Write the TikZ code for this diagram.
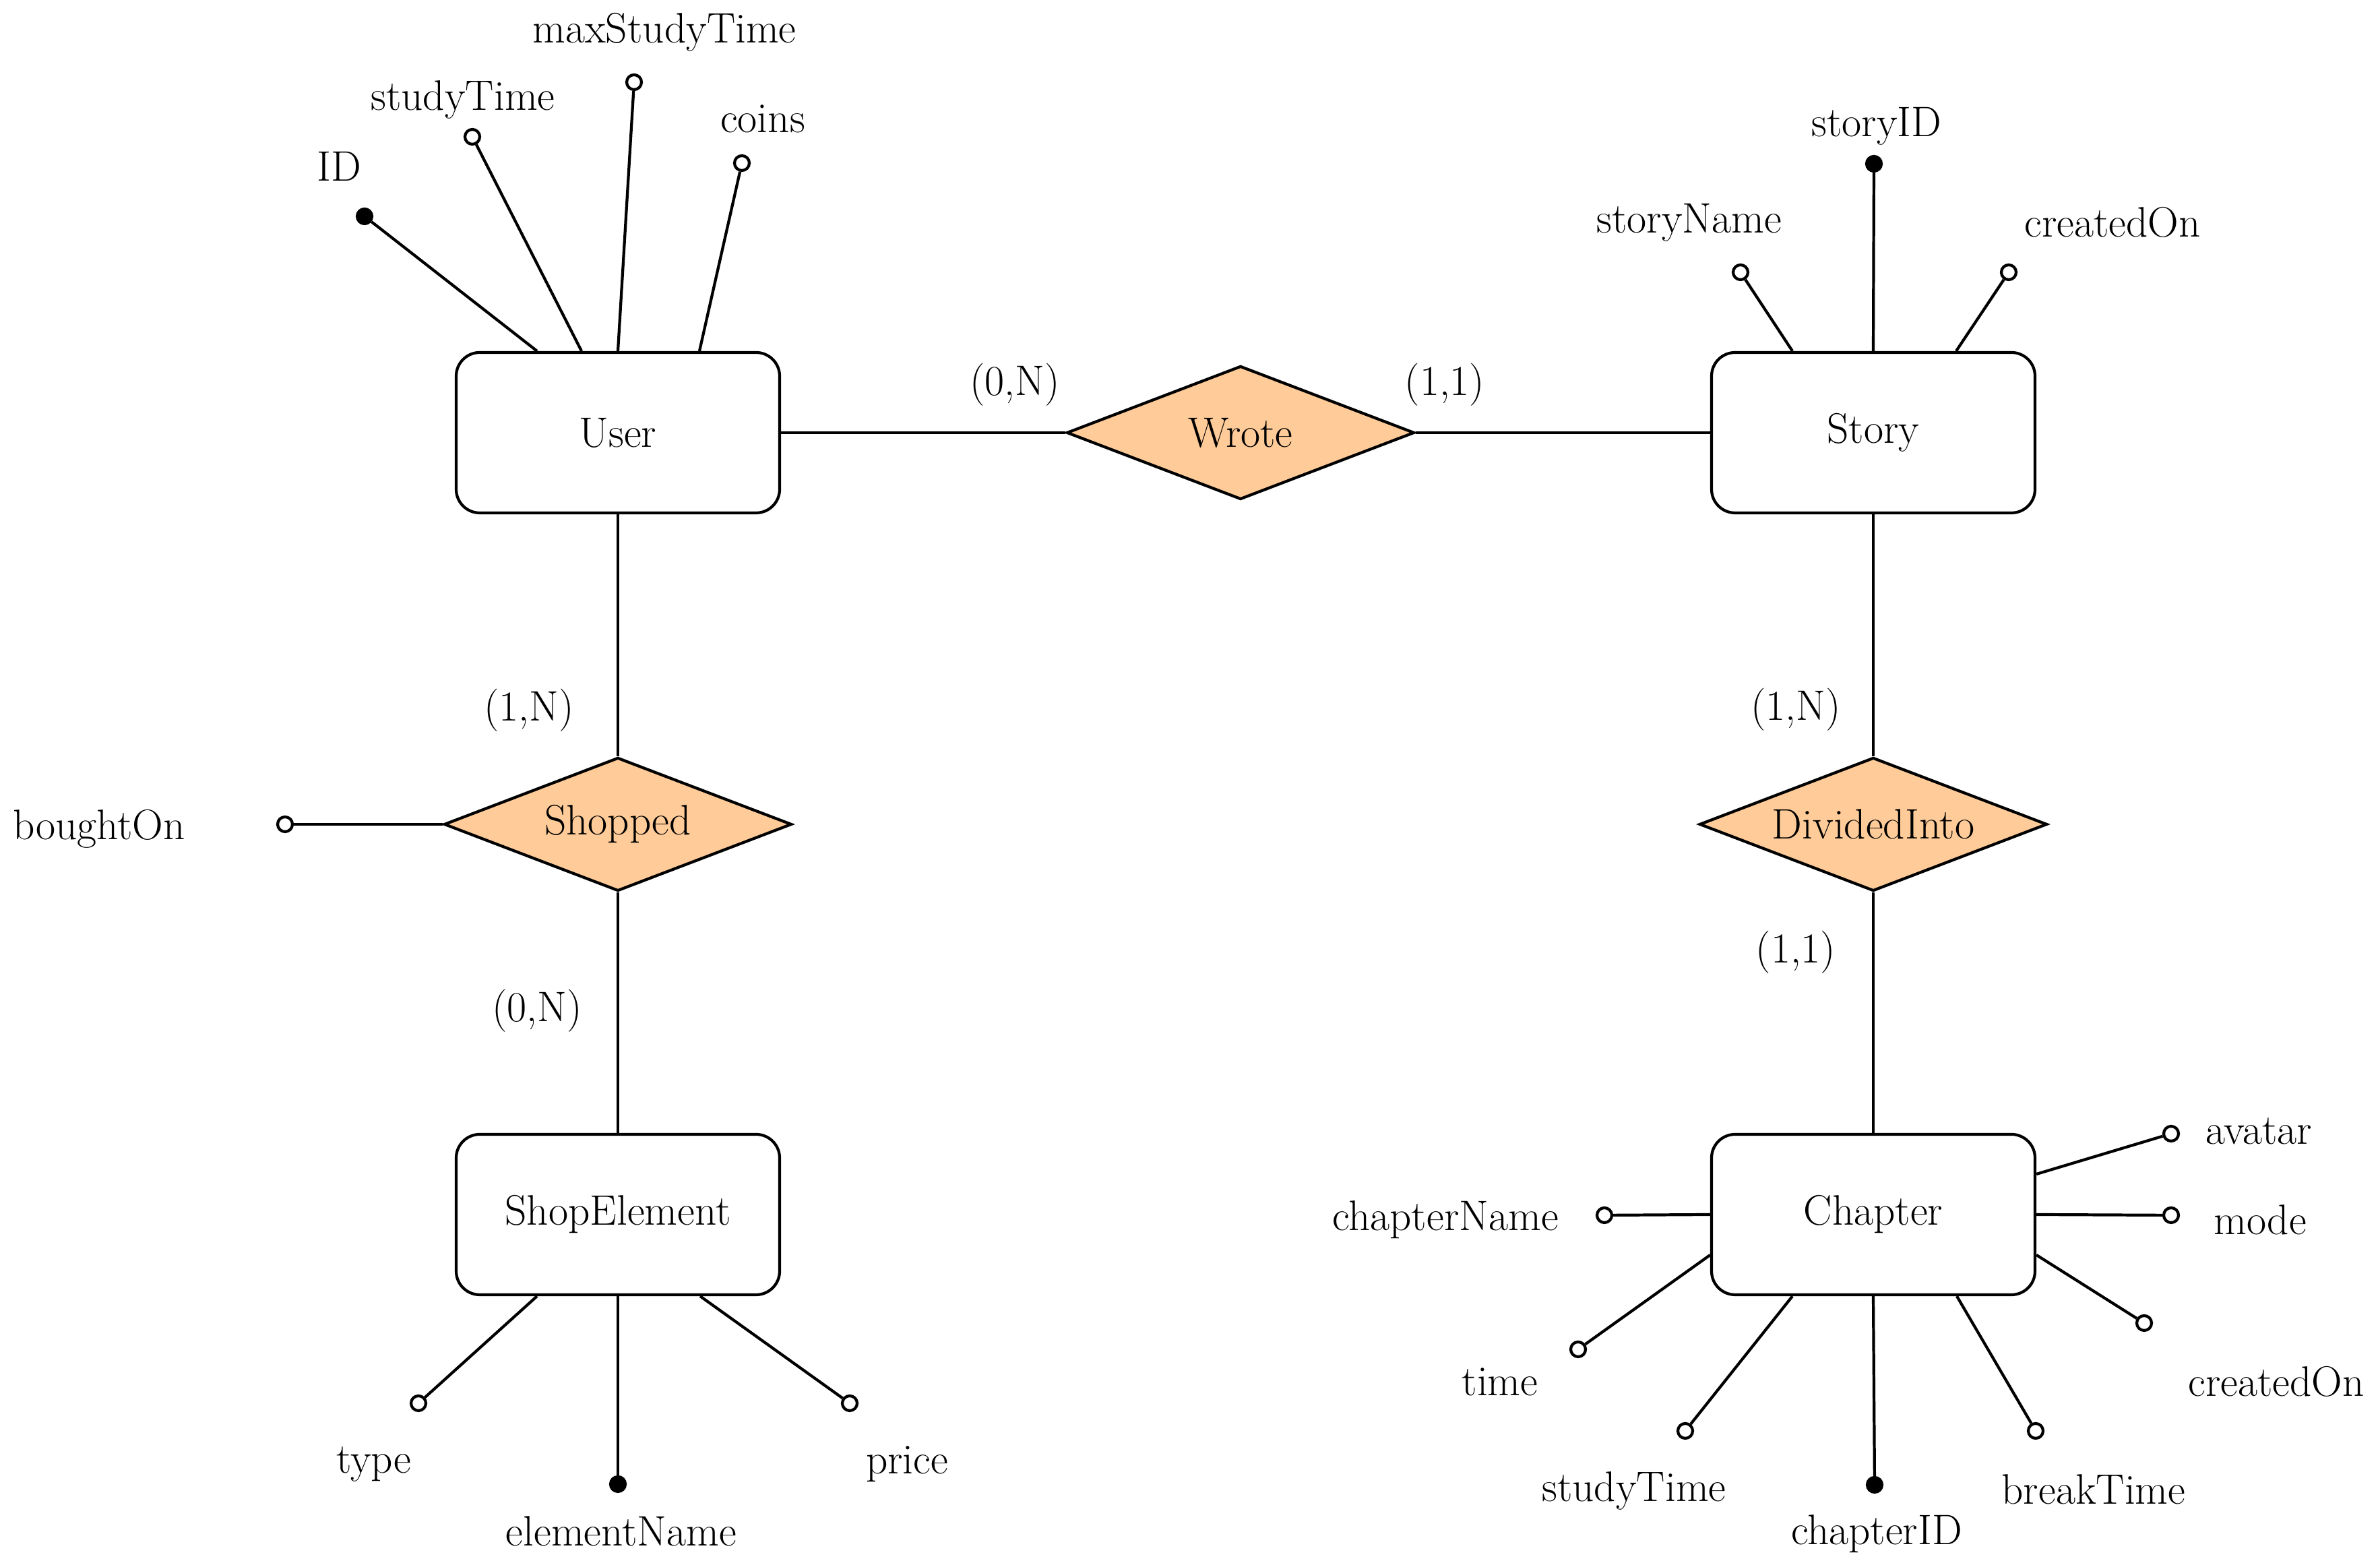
\documentclass[tikz,border=0pt]{standalone}
\usepackage{amsmath}
\usepackage{tikz}
\usetikzlibrary{shapes.geometric}

\begin{document}
\begin{tikzpicture}
  [every node/.style={font=\fontsize{18}{22}\selectfont},
   entity/.style={draw,line width=1.2pt,rounded corners=0.35cm,minimum width=4.8cm,minimum height=2.38cm},
   rel/.style={draw,line width=1.2pt,diamond,aspect=2.6,fill=orange!40,inner sep=0pt,minimum width=5.16cm,minimum height=1.98cm},
   attr/.style={circle,draw,line width=1.2pt,fill=white,inner sep=0pt,minimum size=0.22cm},
   key/.style={attr,fill=black},
   link/.style={line width=1.2pt}]
  \useasboundingbox (0,0) rectangle (35.32,23.16);

  \node[entity] (user) at (9.17,16.74) {User};
  \node[entity] (story) at (27.80,16.74) {Story};
  \node[entity] (shopel) at (9.17,5.14) {ShopElement};
  \node[entity] (chapter) at (27.80,5.14) {Chapter};

  \node[rel] (wrote) at (18.41,16.74) {Wrote};
  \node[rel] (shopped) at (9.17,10.93) {Shopped};
  \node[rel] (divided) at (27.80,10.93) {DividedInto};

  \node (c1) at (15.06,17.45) {(0,N)};
  \node (c2) at (21.44,17.45) {(1,1)};
  \node (c3) at (7.85,12.62) {(1,N)};
  \node (c4) at (7.97,8.16) {(0,N)};
  \node (c5) at (26.65,12.63) {(1,N)};
  \node (c6) at (26.65,9.03) {(1,1)};

  \draw[link] (user) -- (wrote);
  \draw[link] (wrote) -- (story);
  \draw[link] (user) -- (shopped);
  \draw[link] (shopped) -- (shopel);
  \draw[link] (story) -- (divided);
  \draw[link] (divided) -- (chapter);

  % User
  \node[key] (uid) at (5.41,19.95) {};
  \node[attr] (ustudy) at (7.01,21.13) {};
  \node[attr] (umax) at (9.41,21.94) {};
  \node[attr] (ucoins) at (11.01,20.74) {};
  \node (uidt) at (5.03,20.69) {ID};
  \node (ustudyt) at (6.87,21.68) {studyTime};
  \node (umaxt) at (9.86,22.68) {maxStudyTime};
  \node (ucoinst) at (11.32,21.40) {coins};
  \draw[link] (uid) -- ([xshift=-1.2cm]user.north);
  \draw[link] (ustudy) -- ([xshift=-0.54cm]user.north);
  \draw[link] (umax) -- (user.north);
  \draw[link] (ucoins) -- ([xshift=1.21cm]user.north);

  % Story
  \node[key] (sid) at (27.81,20.73) {};
  \node[attr] (sname) at (25.83,19.12) {};
  \node[attr] (screated) at (29.81,19.12) {};
  \node (sidt) at (27.85,21.29) {storyID};
  \node (snamet) at (25.07,19.86) {storyName};
  \node (screatedt) at (31.35,19.86) {createdOn};
  \draw[link] (sid) -- (story.north);
  \draw[link] (sname) -- ([xshift=-1.2cm]story.north);
  \draw[link] (screated) -- ([xshift=1.23cm]story.north);

  % Shopped
  \node[attr] (bought) at (4.23,10.93) {};
  \node (boughtt) at (1.47,10.86) {boughtOn};
  \draw[link] (bought) -- (shopped);

  % ShopElement
  \node[attr] (etype) at (6.21,2.34) {};
  \node[key] (ename) at (9.17,1.14) {};
  \node[attr] (eprice) at (12.61,2.34) {};
  \node (etypet) at (5.55,1.44) {type};
  \node (enamet) at (9.22,0.44) {elementName};
  \node (epricet) at (13.46,1.44) {price};
  \draw[link] (etype) -- ([xshift=-1.2cm]shopel.south);
  \draw[link] (ename) -- (shopel.south);
  \draw[link] (eprice) -- ([xshift=1.22cm]shopel.south);

  % Chapter
  \node[attr] (cname) at (23.81,5.13) {};
  \node[attr] (ctime) at (23.42,3.14) {};
  \node[attr] (cstudy) at (25.01,1.93) {};
  \node[key] (cid) at (27.82,1.13) {};
  \node[attr] (cbreak) at (30.21,1.93) {};
  \node[attr] (ccreated) at (31.82,3.53) {};
  \node[attr] (cmode) at (32.22,5.13) {};
  \node[attr] (cavatar) at (32.22,6.34) {};
  \node (cnamet) at (21.45,5.06) {chapterName};
  \node (ctimet) at (22.26,2.66) {time};
  \node (cstudyt) at (24.25,1.04) {studyTime};
  \node (cidt) at (27.85,0.40) {chapterID};
  \node (cbreakt) at (31.07,1.06) {breakTime};
  \node (ccreatedt) at (33.78,2.66) {createdOn};
  \node (cmodet) at (33.54,5.06) {mode};
  \node (cavatart) at (33.52,6.38) {avatar};
  \draw[link] (cname) -- (chapter.west);
  \draw[link] (ctime) -- ([yshift=-0.6cm]chapter.west);
  \draw[link] (cstudy) -- ([xshift=-1.2cm]chapter.south);
  \draw[link] (cid) -- (chapter.south);
  \draw[link] (cbreak) -- ([xshift=1.24cm]chapter.south);
  \draw[link] (ccreated) -- ([yshift=-0.6cm]chapter.east);
  \draw[link] (cmode) -- (chapter.east);
  \draw[link] (cavatar) -- ([yshift=0.6cm]chapter.east);
\end{tikzpicture}
\end{document}
